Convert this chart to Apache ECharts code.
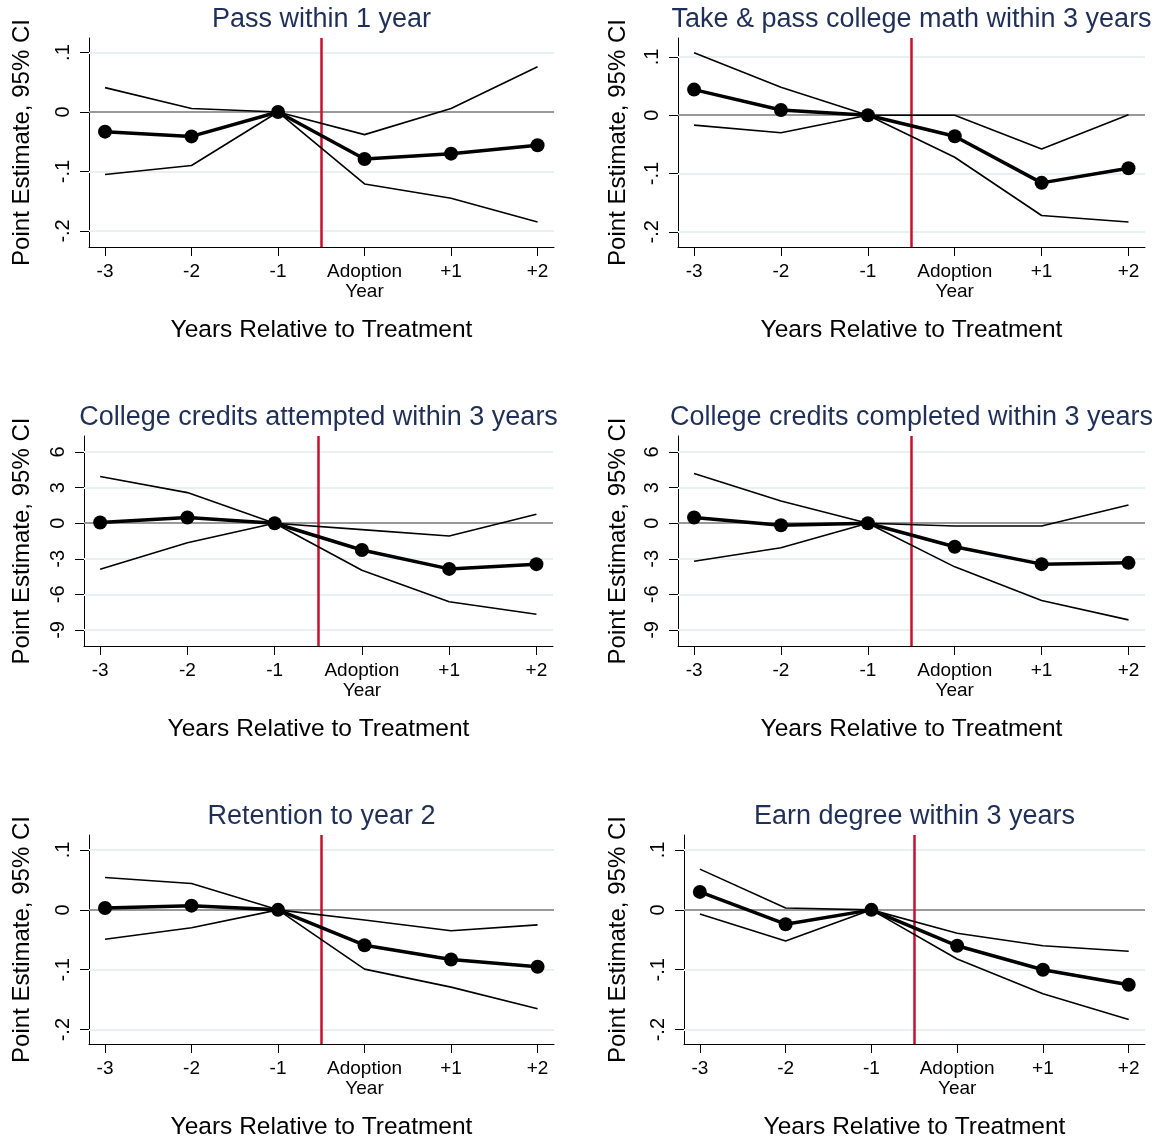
<!DOCTYPE html>
<html>
<head>
<meta charset="utf-8">
<script src="https://cdn.jsdelivr.net/npm/echarts@6/dist/echarts.min.js"></script>
<style>
html,body{margin:0;padding:0;background:#fff}
#main{width:1165px;height:1142px}
</style>
</head>
<body>
<div id="main"></div>
<script>
var titles = ['Pass within 1 year','Take & pass college math within 3 years',
    'College credits attempted within 3 years','College credits completed within 3 years',
    'Retention to year 2','Earn degree within 3 years'];
var xVals = [-3,-2,-1,0,1,2];
var xLabels = ['-3','-2','-1','Adoption\nYear','+1','+2'];

// point estimate, upper and lower 95% CI
var passEst = [-0.033,-0.041,0,-0.079,-0.070,-0.056];
var passHi  = [0.041,0.006,0,-0.038,0.006,0.076];
var passLo  = [-0.105,-0.090,0,-0.121,-0.145,-0.185];

var mathEst = [0.044,0.009,0,-0.036,-0.116,-0.091];
var mathHi  = [0.107,0.048,0,0,-0.058,0.001];
var mathLo  = [-0.017,-0.030,0,-0.072,-0.172,-0.183];

var attEst = [0.06,0.48,0,-2.26,-3.85,-3.45];
var attHi  = [3.93,2.58,0,-0.54,-1.08,0.76];
var attLo  = [-3.88,-1.64,0,-3.96,-6.62,-7.67];

var compEst = [0.48,-0.17,0,-1.98,-3.45,-3.34];
var compHi  = [4.19,1.87,0,-0.23,-0.23,1.53];
var compLo  = [-3.20,-2.07,0,-3.68,-6.51,-8.15];

var retEst = [0.003,0.007,0,-0.059,-0.083,-0.095];
var retHi  = [0.054,0.044,0,-0.017,-0.035,-0.025];
var retLo  = [-0.049,-0.030,0,-0.099,-0.129,-0.165];

var degEst = [0.030,-0.024,0,-0.060,-0.100,-0.125];
var degHi  = [0.068,0.003,0,-0.039,-0.060,-0.069];
var degLo  = [-0.007,-0.052,0,-0.082,-0.140,-0.183];

var estimates = [passEst,mathEst,attEst,compEst,retEst,degEst];
var upper = [passHi,mathHi,attHi,compHi,retHi,degHi];
var lower = [passLo,mathLo,attLo,compLo,retLo,degLo];

var propTicks = [0.1,0,-0.1,-0.2];
var creditTicks = [6,3,0,-3,-6,-9];
var yTicks = [propTicks,propTicks,creditTicks,creditTicks,propTicks,propTicks];
var yMin = [-0.227,-0.226,-10.35,-10.35,-0.224,-0.224];
var yMax = [0.1245,0.1325,7.35,7.35,0.125,0.125];
var xMin = -3.185, xMax = 2.19;
var treatAt = -0.5;

// layout of the six panels
var gridLeft   = [89,678,84,678,89,684];
var gridRight  = [554,1145,553,1145,554,1145];
var gridTop    = [38,38,436,436,835,835];
var gridBottom = [247,247,646,646,1044,1044];
var yNameX = [22,618];

var FONT = 'Liberation Sans, Arial, sans-serif';

function pairs(ys){
    return xVals.map(function(x,i){ return [x, ys[i]]; });
}
function fmtY(v){
    return v === 0 ? '0' : String(v).replace('0.', '.');
}

var option = {
    backgroundColor:'#fff',
    animation:false,
    title:[], grid:[], xAxis:[], yAxis:[], series:[]
};

for (var p = 0; p < 6; p++) {
    var l = gridLeft[p], r = gridRight[p], t = gridTop[p], b = gridBottom[p];
    option.title.push({
        text: titles[p],
        left: (l + r) / 2,
        top: t - 32,
        padding: 0,
        textAlign: 'center',
        textStyle: {fontFamily: FONT, fontSize: 27, fontWeight: 'normal', color: '#1f2f57'}
    });
    option.grid.push({left: l, top: t, width: r - l, height: b - t});
    option.xAxis.push({
        type: 'value', gridIndex: p, min: xMin, max: xMax,
        name: 'Years Relative to Treatment', nameLocation: 'middle', nameGap: 71,
        nameTextStyle: {fontFamily: FONT, fontSize: 24.5, color: '#000'},
        axisLine: {onZero: false, lineStyle: {color: '#000', width: 1}},
        axisTick: {length: 9, lineStyle: {color: '#000', width: 1}, customValues: xVals},
        axisLabel: {
            customValues: xVals, margin: 15, fontFamily: FONT, fontSize: 19, lineHeight: 20, color: '#000',
            formatter: function(v){ return xLabels[xVals.indexOf(Math.round(v))]; }
        },
        splitLine: {show: false}
    });
    var col = p % 2;
    option.yAxis.push({
        type: 'value', gridIndex: p, min: yMin[p], max: yMax[p],
        name: 'Point Estimate, 95% CI', nameLocation: 'middle',
        nameGap: l - yNameX[col] - 12,
        nameTextStyle: {fontFamily: FONT, fontSize: 24, color: '#000'},
        axisLine: {show: true, onZero: false, lineStyle: {color: '#000', width: 1}},
        axisTick: {show: true, length: 9, lineStyle: {color: '#000', width: 1}, customValues: yTicks[p]},
        axisLabel: {
            customValues: yTicks[p], rotate: 90, margin: 16,
            fontFamily: FONT, fontSize: 20, color: '#000', formatter: fmtY
        },
        splitLine: {show: false}
    });

    var refLines = yTicks[p].map(function(v){
        return {yAxis: v, lineStyle: {color: '#e9f0f2', width: 2, type: 'solid'}};
    });
    refLines.push({yAxis: 0, lineStyle: {color: '#999', width: 2, type: 'solid'}});
    refLines.push({xAxis: treatAt, lineStyle: {color: '#c8102e', width: 2.5, type: 'solid'}});

    option.series.push({
        type: 'line', xAxisIndex: p, yAxisIndex: p, z: 3,
        data: pairs(upper[p]), showSymbol: false, symbol: 'none',
        lineStyle: {color: '#000', width: 1.6},
        markLine: {silent: true, z: 1, symbol: 'none', label: {show: false}, animation: false, data: refLines}
    });
    option.series.push({
        type: 'line', xAxisIndex: p, yAxisIndex: p, z: 3,
        data: pairs(lower[p]), showSymbol: false, symbol: 'none',
        lineStyle: {color: '#000', width: 1.6}
    });
    option.series.push({
        type: 'line', xAxisIndex: p, yAxisIndex: p, z: 4,
        data: pairs(estimates[p]), symbol: 'circle', symbolSize: 14,
        itemStyle: {color: '#000', borderWidth: 0},
        lineStyle: {color: '#000', width: 3.5}
    });
}

var chart = echarts.init(document.getElementById('main'));
chart.setOption(option);
</script>
</body>
</html>
